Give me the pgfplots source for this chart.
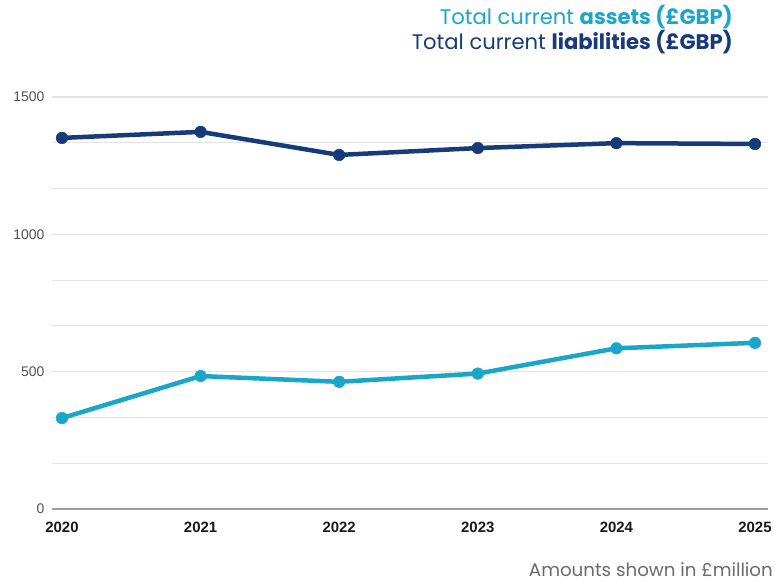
\documentclass[border=0pt]{standalone}
\usepackage{fontspec}
\setmainfont{Liberation Sans}
\newfontfamily\pop{Poppins}
\usepackage{pgfplots}
\pgfplotsset{compat=1.18}
\definecolor{assets}{HTML}{1AA6C8}
\definecolor{liab}{HTML}{173A7A}
\definecolor{gridc}{HTML}{E3E3E3}
\definecolor{tickc}{HTML}{505050}
\definecolor{footc}{HTML}{6A6A6A}
\begin{document}
\begin{tikzpicture}[x=1bp,y=1bp]
\useasboundingbox (0,0) rectangle (775,582);
\begin{axis}[
  at={(52bp,73bp)}, anchor=south west,
  scale only axis, width=716bp, height=412bp,
  xmin=2019.928, xmax=2025.094,
  ymin=0, ymax=1500,
  axis x line*=bottom, axis y line*=left,
  x axis line style={draw=gray!75, line width=1.8bp, -},
  y axis line style={draw=none},
  xtick={2020,2021,2022,2023,2024,2025},
  xticklabels={2020,2021,2022,2023,2024,2025},
  ytick={0,500,1000,1500},
  minor ytick={166.667,333.333,666.667,833.333,1166.667,1333.333},
  major tick length=0pt, minor tick length=0pt,
  ymajorgrids, yminorgrids,
  major grid style={draw=gridc, line width=1.2bp},
  minor grid style={draw=gridc, line width=1.2bp},
  /pgf/number format/assume math mode=true,
  /pgf/number format/set thousands separator={},
  yticklabel style={font=\fontsize{14}{16}\selectfont, text=tickc, xshift=-4bp},
  xticklabel style={font=\fontsize{15}{17}\selectfont\bfseries, text=black!90, yshift=-10bp},
  clip=false,
]
\addplot[color=liab, line width=4.5bp, mark=*, mark size=5.8bp, mark options={fill=liab, draw=liab, line width=0.5bp}] coordinates {
(2020,1351) (2021,1373) (2022,1289) (2023,1314) (2024,1332) (2025,1329)};
\addplot[color=assets, line width=4.5bp, mark=*, mark size=5.8bp, mark options={fill=assets, draw=assets, line width=0.5bp}] coordinates {
(2020,331) (2021,484) (2022,463) (2023,493) (2024,585) (2025,605)};
\end{axis}
\node[anchor=base east, inner sep=0pt, text=assets, font=\pop\fontsize{21.2}{24}\selectfont] at (733,557) {Total current \textbf{assets (£GBP)}};
\node[anchor=base east, inner sep=0pt, text=liab, font=\pop\fontsize{21.2}{24}\selectfont] at (733,532) {Total current \textbf{liabilities (£GBP)}};
\node[anchor=base east, inner sep=0pt, text=footc, font=\pop\fontsize{18.3}{20}\selectfont] at (773,5) {Amounts shown in £million};
\end{tikzpicture}
\end{document}
